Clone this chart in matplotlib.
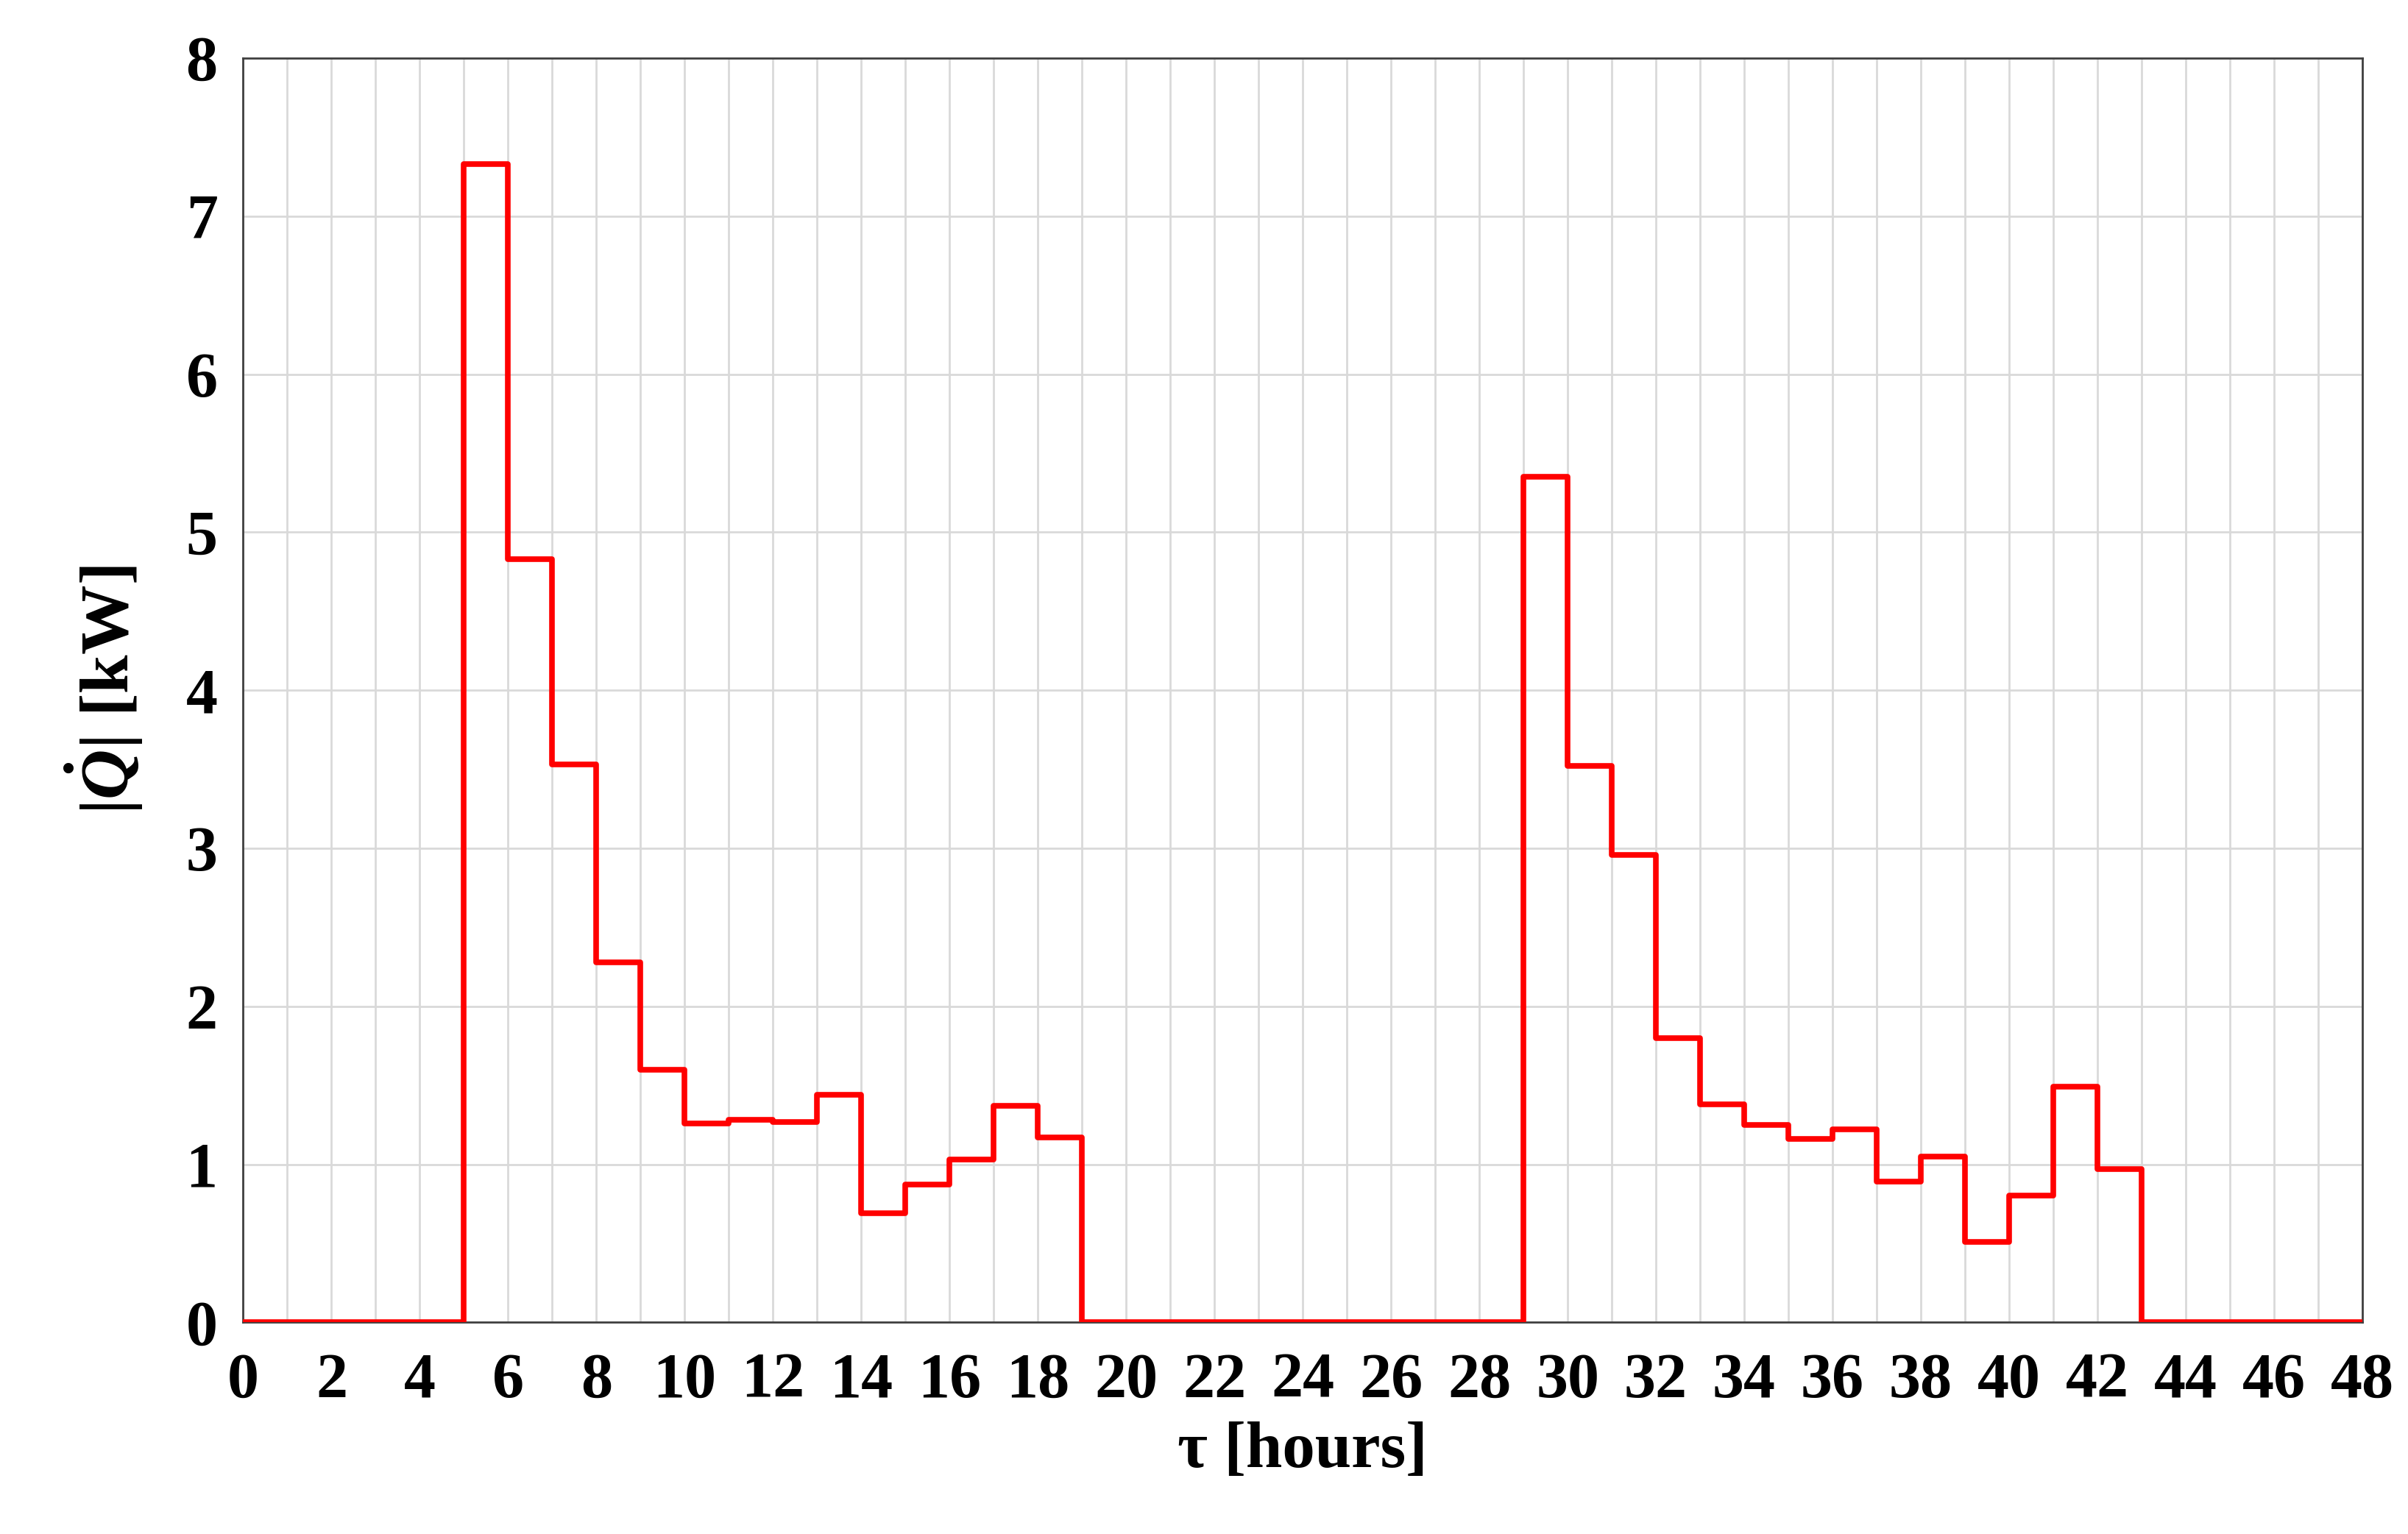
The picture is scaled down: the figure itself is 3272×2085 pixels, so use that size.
import matplotlib
matplotlib.use("Agg")
import matplotlib.pyplot as plt
import numpy as np

plt.rcParams['font.family'] = ['Liberation Serif', 'DejaVu Serif']
plt.rcParams['font.weight'] = 'bold'
plt.rcParams['mathtext.fontset'] = 'custom'
plt.rcParams['mathtext.rm'] = 'Liberation Serif:bold'
plt.rcParams['mathtext.it'] = 'Liberation Serif:bold:italic'
plt.rcParams['mathtext.bf'] = 'Liberation Serif:bold'

# hourly heat load, value held from hour h to h+1
hours = np.arange(0, 49)
load = [0, 0, 0, 0, 0,
        7.33, 4.83, 3.53, 2.28, 1.60, 1.26, 1.28, 1.27, 1.44, 0.69,
        0.87, 1.03, 1.37, 1.17,
        0, 0, 0, 0, 0, 0, 0, 0, 0, 0,
        5.35, 3.52, 2.96, 1.80, 1.38, 1.25, 1.16, 1.22, 0.89, 1.05,
        0.51, 0.80, 1.49, 0.97,
        0, 0, 0, 0, 0, 0]

fig = plt.figure(figsize=(32.72, 20.85), dpi=100)
ax = fig.add_axes([0.101, 0.138, 0.880, 0.824])
ax.step(hours, load, where='post', color='#ff0000', lw=5.5, zorder=3)

ax.set_xlim(0, 48)
ax.set_ylim(0, 8)
ax.set_xticks(np.arange(0, 49, 1), minor=True)
ax.set_xticks(np.arange(0, 49, 2))
ax.set_yticks(np.arange(0, 9, 1))
ax.grid(True, which='both', axis='x', color='#d9d9d9', lw=2)
ax.grid(True, which='major', axis='y', color='#d9d9d9', lw=2)
ax.tick_params(which='both', length=0, labelsize=62)
ax.tick_params(axis='x', pad=30)
ax.tick_params(axis='y', pad=25)
for s in ax.spines.values():
    s.set_color('#404040')
    s.set_linewidth(2)

ax.set_xlabel('τ [hours]', fontsize=64, fontweight='bold', labelpad=10)
ax.set_ylabel(r'$|\dot{Q}|$ [kW]', fontsize=68, fontweight='bold', labelpad=40)

fig.savefig('out.png', dpi=100)
